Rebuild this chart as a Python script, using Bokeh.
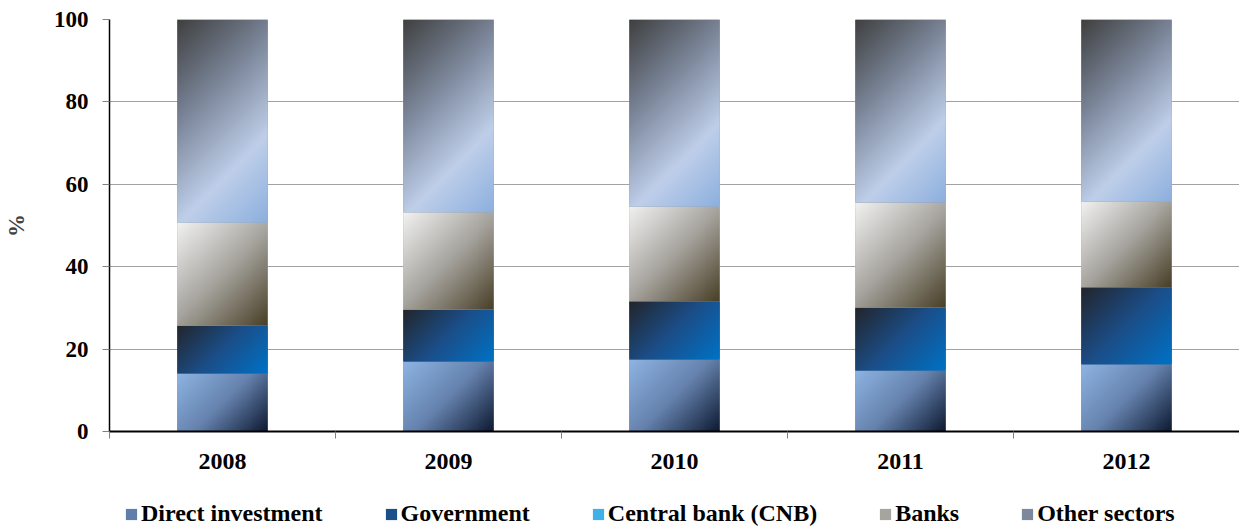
import numpy as np
from bokeh.plotting import figure
from bokeh.layouts import column
from bokeh.models import Range1d, FixedTicker, Legend, LegendItem
from bokeh.embed import file_html
from bokeh.resources import INLINE

years = ["2008", "2009", "2010", "2011", "2012"]
direct_investment = [14.1, 17.0, 17.5, 14.8, 16.3]
government = [11.6, 12.6, 14.1, 15.3, 18.7]
central_bank = [0.0, 0.0, 0.0, 0.0, 0.0]
banks = [25.0, 23.6, 23.0, 25.5, 20.8]
other_sectors = [49.3, 46.8, 45.4, 44.4, 44.2]
y_ticks = [0, 20, 40, 60, 80, 100]

series = [
    ("Direct investment", direct_investment, "#5f7fab",
     [(0.0, "#8eb4e3"), (0.5, "#6683ae"), (1.0, "#0e1b33")]),
    ("Government", government, "#1a4f8a",
     [(0.0, "#23262c"), (0.5, "#1b4f8a"), (1.0, "#0072c6")]),
    ("Central bank (CNB)", central_bank, "#40b0e8",
     [(0.0, "#2fa0e0"), (1.0, "#8fd3f5")]),
    ("Banks", banks, "#a6a49e",
     [(0.0, "#f2f2f2"), (0.5, "#a6a49e"), (1.0, "#4a4028")]),
    ("Other sectors", other_sectors, "#7d889c",
     [(0.0, "#404040"), (0.35, "#7a8598"), (0.7, "#bfcfea"), (1.0, "#8db0de")]),
]

BAR_W = 0.4
PX_PER_UNIT = 4.12
BAR_PX = 91
FONT = "Liberation Serif"


def hex2rgb(h):
    h = h.lstrip("#")
    return np.array([int(h[i:i + 2], 16) for i in (0, 2, 4)], dtype=float)


def gradient(stops, w, h):
    cols = np.arange(w)[None, :]
    rows = np.arange(h)[:, None]
    t = (cols + rows) / max(1, (w - 1 + h - 1))
    pos = np.array([s[0] for s in stops])
    rgb = np.array([hex2rgb(s[1]) for s in stops])
    img = np.zeros((h, w, 4), dtype=np.uint8)
    for k in range(3):
        img[:, :, k] = np.interp(t, pos, rgb[:, k]).astype(np.uint8)
    img[:, :, 3] = 255
    img = img[::-1]  # row 0 is bottom in bokeh
    return img.view(dtype=np.uint32).reshape((h, w))


p = figure(
    width=1239, height=480,
    x_range=Range1d(0, 5), y_range=Range1d(0, 100),
    output_backend="svg", toolbar_location=None,
    min_border_left=109, min_border_right=0, min_border_top=19, min_border_bottom=49,
    outline_line_color=None, background_fill_color="white",
)

# separate strip for the legend (keeps it from being clipped by the frame)
lf = figure(
    width=1239, height=47, x_range=Range1d(0, 1), y_range=Range1d(0, 1),
    output_backend="svg", toolbar_location=None,
    min_border_left=0, min_border_right=0, min_border_top=0, min_border_bottom=0,
    outline_line_color=None, background_fill_color="white",
)
lf.axis.visible = False
lf.grid.visible = False

xs = [i + 0.5 for i in range(len(years))]
bottoms = [0.0] * len(years)
legend_items = []
for name, vals, solid, stops in series:
    tops = [b + v for b, v in zip(bottoms, vals)]
    p.quad(left=[x - BAR_W / 2 for x in xs], right=[x + BAR_W / 2 for x in xs],
           bottom=bottoms, top=tops, fill_color=solid, line_color=None)
    # legend swatch source (placed outside the strip's visible range)
    lr = lf.quad(left=[5], right=[6], bottom=[5], top=[6], fill_color=solid, line_color=None)
    legend_items.append(LegendItem(label=name, renderers=[lr]))
    for x, b, v in zip(xs, bottoms, vals):
        if v <= 0:
            continue
        hpx = max(2, int(round(v * PX_PER_UNIT)))
        img = gradient(stops, BAR_PX, hpx)
        p.image_rgba(image=[img], x=x - BAR_W / 2, y=b, dw=BAR_W, dh=v)
    bottoms = tops

# grid
p.xgrid.grid_line_color = None
p.ygrid.ticker = FixedTicker(ticks=y_ticks[1:])
p.ygrid.grid_line_color = "#444444"
p.ygrid.grid_line_dash = "1 1"
p.ygrid.grid_line_width = 1

# y axis
ya = p.yaxis[0]
ya.ticker = FixedTicker(ticks=y_ticks)
ya.axis_label = "%"
ya.axis_label_text_font = FONT
ya.axis_label_text_font_style = "bold"
ya.axis_label_text_font_size = "23px"
ya.axis_label_standoff = 22
ya.major_label_text_font = FONT
ya.major_label_text_font_style = "bold"
ya.major_label_text_font_size = "23px"
ya.major_label_text_color = "black"
ya.major_label_standoff = 14
ya.major_tick_out = 7
ya.major_tick_in = 0
ya.major_tick_line_color = "#808080"
ya.minor_tick_line_color = None
ya.axis_line_color = "black"
ya.axis_line_width = 1.5

# x axis
xa = p.xaxis[0]
xa.ticker = FixedTicker(ticks=xs, minor_ticks=list(range(len(years) + 1)))
xa.major_label_overrides = {x: y for x, y in zip(xs, years)}
xa.major_label_text_font = FONT
xa.major_label_text_font_style = "bold"
xa.major_label_text_font_size = "24px"
xa.major_label_text_color = "black"
xa.major_label_standoff = 15
xa.major_tick_line_color = None
xa.major_tick_out = 0
xa.major_tick_in = 0
xa.minor_tick_out = 7
xa.minor_tick_in = 0
xa.minor_tick_line_color = "#808080"
xa.axis_line_color = "black"
xa.axis_line_width = 2

legend = Legend(items=legend_items, orientation="horizontal", location=(15, 0),
                label_text_font=FONT, label_text_font_style="bold",
                label_text_font_size="24px", label_text_color="black",
                glyph_width=14, glyph_height=14, label_standoff=3, spacing=61,
                border_line_color=None, background_fill_alpha=0,
                padding=0, margin=0)
lf.add_layout(legend, "center")

layout = column(p, lf, spacing=0)
open("out.html", "w").write(file_html(layout, INLINE))
